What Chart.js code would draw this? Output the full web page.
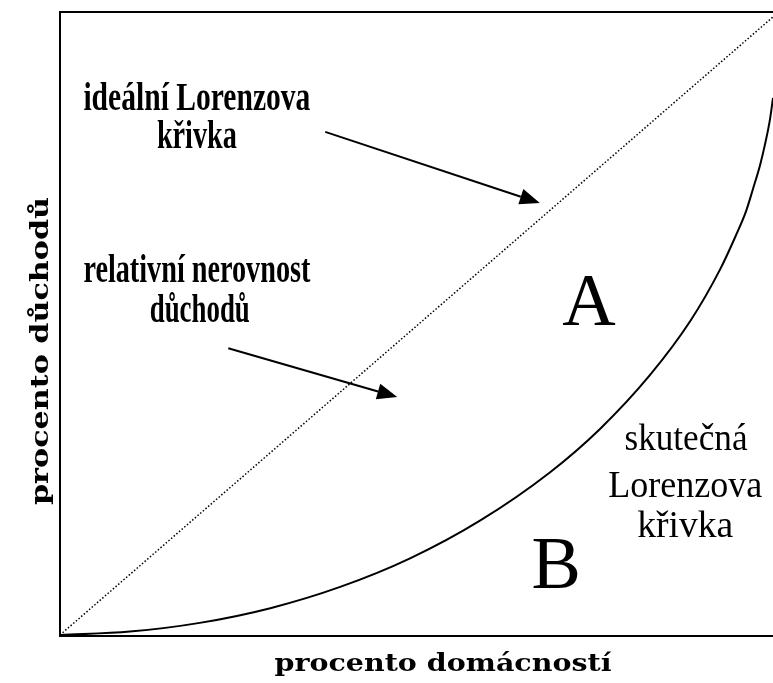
<!DOCTYPE html>
<html>
<head>
<meta charset="utf-8">
<script src="https://cdn.jsdelivr.net/npm/chart.js@4/dist/chart.umd.min.js"></script>
<style>
  body { margin: 0; background: #fff; }
  canvas { display: block; }
</style>
</head>
<body>
<canvas id="lorenzChart" width="773" height="683"></canvas>
<script>
// Lorenz curve data (percent of households vs percent of income)
const householdPct = [0, 9.8, 19.6, 29.5, 39.3, 49.1, 58.9, 68.7, 75.7, 82.7, 88.4, 92.6, 94.7, 96.2, 97.2, 98.2, 98.9, 99.6, 100];
const incomePct    = [0, 0.55, 1.96, 4.34, 7.78, 12.4, 18.5, 26.3, 33.3, 42.0, 50.8, 59.2, 64.4, 68.5, 72.2, 76.1, 79.5, 83.6, 86.9];
const idealX = [0, 100];
const idealY = [0, 100];

const xTitle = 'procento domácností';
const yTitle = 'procento důchodů';

// annotation labels, anchored in data coordinates (x, baseline y)
const labels = [
    { text: 'ideální Lorenzova', x: 19.2, y: 84.9, font: 'bold 39px "Liberation Serif"', w: 227 },
    { text: 'křivka', x: 19.2, y: 78.8, font: 'bold 39px "Liberation Serif"', w: 80 },
    { text: 'relativní nerovnost', x: 19.2, y: 57.1, font: 'bold 39px "Liberation Serif"', w: 227 },
    { text: 'důchodů', x: 19.6, y: 50.6, font: 'bold 39px "Liberation Serif"', w: 100 },
    { text: 'A', x: 74.2, y: 50.2, font: '74px "Liberation Serif"', w: 0 },
    { text: 'B', x: 69.6, y: 7.6, font: '74px "Liberation Serif"', w: 0 },
    { text: 'skutečná', x: 87.8, y: 29.9, font: '38px "Liberation Serif"', w: 123 },
    { text: 'Lorenzova', x: 87.7, y: 22.3, font: '38px "Liberation Serif"', w: 154 },
    { text: 'křivka', x: 87.7, y: 15.9, font: '38px "Liberation Serif"', w: 96 }
];

// arrows: from -> to, in data coordinates
const arrows = [
    { x1: 37.2, y1: 81.4, x2: 67.3, y2: 69.9 },
    { x1: 23.6, y1: 46.4, x2: 47.3, y2: 38.5 }
];

function drawText(ctx, text, cx, cy, font, targetW, rotate) {
    ctx.save();
    ctx.font = font;
    const w = ctx.measureText(text).width;
    const sx = targetW ? targetW / w : 1;
    ctx.translate(cx, cy);
    if (rotate) ctx.rotate(rotate);
    ctx.scale(sx, 1);
    ctx.textAlign = 'center';
    ctx.textBaseline = 'alphabetic';
    ctx.fillStyle = '#000';
    ctx.fillText(text, 0, 0);
    ctx.restore();
}

function drawArrow(ctx, x1, y1, x2, y2) {
    const ang = Math.atan2(y2 - y1, x2 - x1);
    const len = 20, half = 8;
    ctx.save();
    ctx.strokeStyle = '#000';
    ctx.fillStyle = '#000';
    ctx.lineWidth = 2;
    ctx.beginPath();
    ctx.moveTo(x1, y1);
    ctx.lineTo(x2 - len * Math.cos(ang), y2 - len * Math.sin(ang));
    ctx.stroke();
    ctx.translate(x2, y2);
    ctx.rotate(ang);
    ctx.beginPath();
    ctx.moveTo(0, 0);
    ctx.lineTo(-len, -half);
    ctx.lineTo(-len, half);
    ctx.closePath();
    ctx.fill();
    ctx.restore();
}

const framePlugin = {
    id: 'frame',
    afterDatasetsDraw(chart) {
        const ctx = chart.ctx;
        const a = chart.chartArea;
        const xs = chart.scales.x, ys = chart.scales.y;

        // frame: left, top, bottom
        ctx.save();
        ctx.strokeStyle = '#000';
        ctx.lineWidth = 2;
        ctx.beginPath();
        ctx.moveTo(chart.width, a.top);
        ctx.lineTo(a.left, a.top);
        ctx.lineTo(a.left, a.bottom + 1);
        ctx.lineTo(chart.width, a.bottom + 1);
        ctx.stroke();
        ctx.restore();

        arrows.forEach(ar => {
            drawArrow(ctx, xs.getPixelForValue(ar.x1), ys.getPixelForValue(ar.y1),
                xs.getPixelForValue(ar.x2), ys.getPixelForValue(ar.y2));
        });

        labels.forEach(l => {
            drawText(ctx, l.text, xs.getPixelForValue(l.x), ys.getPixelForValue(l.y), l.font, l.w);
        });

        // axis titles
        drawText(ctx, xTitle, 443, 671, 'bold 24px "DejaVu Serif"', 337);
        drawText(ctx, yTitle, 48, 351, 'bold 24px "DejaVu Serif"', 308, -Math.PI / 2);
    }
};

new Chart(document.getElementById('lorenzChart'), {
    type: 'scatter',
    data: {
        datasets: [
            {
                label: 'ideální',
                data: idealX.map((x, i) => ({ x: x, y: idealY[i] })),
                showLine: true,
                borderColor: '#000',
                borderWidth: 1.5,
                borderDash: [1.5, 2],
                pointRadius: 0
            },
            {
                label: 'skutečná',
                data: householdPct.map((x, i) => ({ x: x, y: incomePct[i] })),
                showLine: true,
                borderColor: '#000',
                borderWidth: 2,
                cubicInterpolationMode: 'monotone',
                pointRadius: 0
            }
        ]
    },
    options: {
        responsive: false,
        animation: false,
        layout: { padding: { left: 60, top: 12, right: 0, bottom: 48 } },
        plugins: {
            legend: { display: false },
            tooltip: { enabled: false }
        },
        scales: {
            x: { type: 'linear', min: 0, max: 100, display: false },
            y: { type: 'linear', min: 0, max: 100.8, display: false }
        }
    },
    plugins: [framePlugin]
});
</script>
</body>
</html>
